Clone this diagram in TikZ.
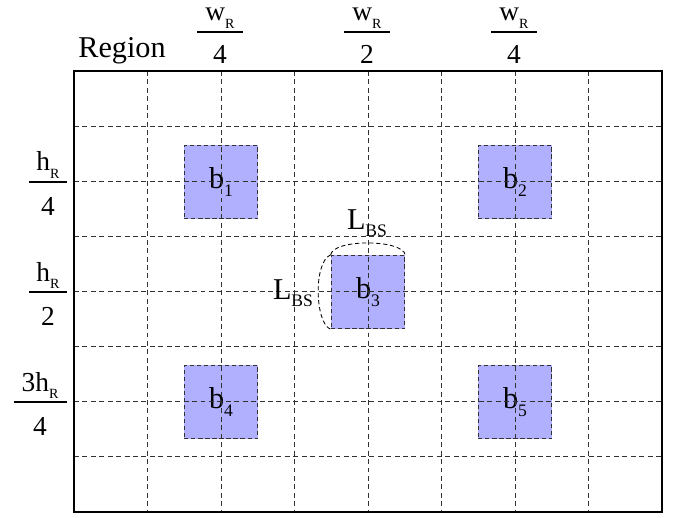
\documentclass[tikz,border=0pt]{standalone}
\usepackage{fontspec}
\setmainfont{Liberation Serif}
\usetikzlibrary{positioning,calc}

\definecolor{bsblue}{RGB}{176,176,255}
\definecolor{griddark}{RGB}{50,50,50}
\newcommand{\lsub}[1]{\raisebox{-5.5pt}{\fontsize{12.5}{14}\selectfont #1}}
\newcommand{\fsub}[1]{\raisebox{-5.5pt}{\fontsize{10}{11}\selectfont #1}}

\begin{document}
\begin{tikzpicture}[x=0.025cm,y=-0.025cm,
  gridline/.style={griddark,line width=0.7pt,dash pattern=on 3.5pt off 2.5pt},
  bsbox/.style={draw=griddark,fill=bsblue,line width=0.7pt,dash pattern=on 3pt off 2pt,
    minimum size=1.8375cm,inner sep=0pt,font=\fontsize{21.5}{24}\selectfont},
  lbl/.style={inner sep=0pt,anchor=base,font=\fontsize{21.5}{24}\selectfont},
  frc/.style={inner sep=0pt,anchor=base,font=\fontsize{19.5}{22}\selectfont},
  fracbar/.style={line width=1pt},
  brace/.style={line width=0.6pt,dash pattern=on 3pt off 2pt}]
\useasboundingbox (0,0) rectangle (676,518);

% base stations
\node[bsbox] (b1) at (221,182) {b\lsub{1}};
\node[bsbox] (b2) at (515,182) {b\lsub{2}};
\node[bsbox] (b3) at (368,292) {b\lsub{3}};
\node[bsbox] (b4) at (221,402) {b\lsub{4}};
\node[bsbox] (b5) at (515,402) {b\lsub{5}};

% grid over the region
\foreach \i in {1,...,7} {
  \draw[gridline] (74+\i*73.5,71) -- ++(0,441);
  \draw[gridline] (74,71+\i*55) -- ++(588,0);
}
\draw[line width=1.4pt] (74,71) rectangle (662,512);

% size of b3
\draw[brace] (b3.north west) .. controls (333,239) and (402,239) .. (b3.north east);
\draw[brace] (b3.north west) .. controls (313,262) and (315,324) .. (b3.south west);
\node[lbl] (lbstop) at (367,229) {L\lsub{BS}};
\node[lbl] (lbsleft) at (293,299) {L\lsub{BS}};

% labels
\node[lbl] (region) at (122,58) {Region};
\foreach \x/\dn [count=\i] in {220/4,367/2,514/4} {
  \node[frc] (wnum\i) at (\x,21) {w\fsub{R}};
  \node[frc] (wden\i) at (\x,64) {\dn};
  \draw[fracbar] (\x-23,32) -- (\x+23,32);
}
\foreach \x/\y/\nm/\dn/\len [count=\i] in {48/182/h/4/19,48/292/h/2/19,40/402/3h/4/26.5} {
  \node[frc] (hnum\i) at (\x,\y-11) {\nm\fsub{R}};
  \node[frc] (hden\i) at (\x,\y+33) {\dn};
  \draw[fracbar] (\x-\len,\y) -- (\x+\len,\y);
}
\end{tikzpicture}
\end{document}
